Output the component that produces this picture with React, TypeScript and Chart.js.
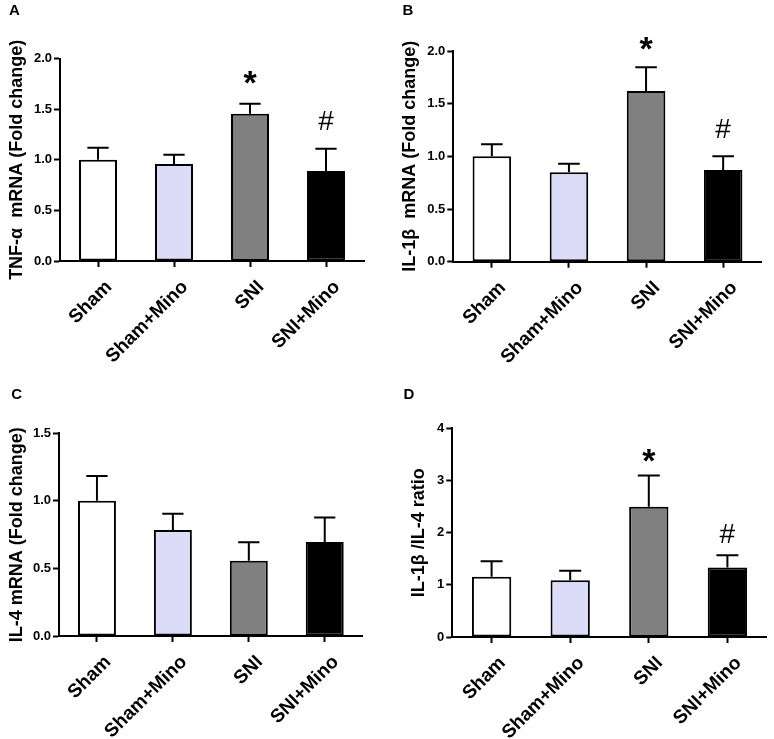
import React, { useEffect, useRef } from 'react';
import { Chart, registerables } from 'chart.js';

Chart.register(...registerables);

// ---------- data ----------
const categories = ['Sham', 'Sham+Mino', 'SNI', 'SNI+Mino'];

const tnfMean = [1.0, 0.96, 1.455, 0.89];
const tnfErr = [0.12, 0.09, 0.1, 0.22];
const tnfSig = ['', '', '*', '#'];

const il1bMean = [1.0, 0.85, 1.62, 0.87];
const il1bErr = [0.115, 0.08, 0.225, 0.13];
const il1bSig = ['', '', '*', '#'];

const il4Mean = [1.0, 0.785, 0.557, 0.696];
const il4Err = [0.184, 0.12, 0.136, 0.18];
const il4Sig = ['', '', '', ''];

const ratioMean = [1.155, 1.09, 2.496, 1.33];
const ratioErr = [0.295, 0.18, 0.6, 0.235];
const ratioSig = ['', '', '*', '#'];

const tnfTicks = { max: 2.0, step: 0.5, decimals: 1 };
const il1bTicks = { max: 2.0, step: 0.5, decimals: 1 };
const il4Ticks = { max: 1.5, step: 0.5, decimals: 1 };
const ratioTicks = { max: 4, step: 1, decimals: 0 };

// ---------- style ----------
const FONT = '"Liberation Sans", Arial, Helvetica, sans-serif';
const barColors = ['#ffffff', '#dcdcf8', '#808080', '#000000'];

type PanelCfg = {
  letter: string;
  title: string;
  mean: number[];
  err: number[];
  sig: string[];
  ticks: { max: number; step: number; decimals: number };
  left: number;
  top: number;
  w: number;
  h: number;
  padLeft: number;
  padRight: number;
  padTop: number;
  yWidth: number;
  xHeight: number;
  letterX: number;
  letterY: number;
  starGap: number;
  hashGap: number;
};

const panels: PanelCfg[] = [
  {
    letter: 'A', title: 'TNF-\u03b1  mRNA (Fold change)', mean: tnfMean, err: tnfErr, sig: tnfSig, ticks: tnfTicks,
    left: 0, top: 0, w: 387, h: 370, padLeft: 0, padRight: 23, padTop: 58.7, yWidth: 60, xHeight: 109,
    letterX: 14.5, letterY: 10.5, starGap: 26, hashGap: 28,
  },
  {
    letter: 'B', title: 'IL-1\u03b2  mRNA (Fold change)', mean: il1bMean, err: il1bErr, sig: il1bSig, ticks: il1bTicks,
    left: 387, top: 0, w: 387, h: 370, padLeft: 6, padRight: 12.3, padTop: 51, yWidth: 60.3, xHeight: 108.3,
    letterX: 21, letterY: 10.5, starGap: 24, hashGap: 28,
  },
  {
    letter: 'C', title: 'IL-4 mRNA (Fold change)', mean: il4Mean, err: il4Err, sig: il4Sig, ticks: il4Ticks,
    left: 0, top: 370, w: 387, h: 369, padLeft: 0, padRight: 24.3, padTop: 63.3, yWidth: 59, xHeight: 103,
    letterX: 16.7, letterY: 25, starGap: 24, hashGap: 28,
  },
  {
    letter: 'D', title: 'IL-1\u03b2 /IL-4 ratio', mean: ratioMean, err: ratioErr, sig: ratioSig, ticks: ratioTicks,
    left: 387, top: 370, w: 387, h: 369, padLeft: 15.4, padRight: 7.3, padTop: 58.3, yWidth: 49.9, xHeight: 102,
    letterX: 22, letterY: 25, starGap: 20, hashGap: 22,
  },
];

function makeOverlayPlugin(cfg: PanelCfg) {
  return {
    id: 'overlay' + cfg.letter,
    afterDatasetsDraw(chart: any) {
      const ctx = chart.ctx as CanvasRenderingContext2D;
      const meta = chart.getDatasetMeta(0);
      const yScale = chart.scales.y;
      ctx.save();
      ctx.strokeStyle = '#000';
      ctx.lineWidth = 2;
      meta.data.forEach((bar: any, i: number) => {
        const x = bar.x;
        const yBar = yScale.getPixelForValue(cfg.mean[i]);
        const yTop = yScale.getPixelForValue(cfg.mean[i] + cfg.err[i]);
        const cap = bar.width * 0.56;
        ctx.beginPath();
        ctx.moveTo(x, yBar);
        ctx.lineTo(x, yTop);
        ctx.moveTo(x - cap / 2, yTop);
        ctx.lineTo(x + cap / 2, yTop);
        ctx.stroke();
        const s = cfg.sig[i];
        if (s) {
          ctx.fillStyle = '#000';
          ctx.font = s === '*' ? `bold 34px ${FONT}` : `normal 28px ${FONT}`;
          ctx.textAlign = 'center';
          ctx.textBaseline = 'alphabetic';
          const m = ctx.measureText(s);
          const inkMid = (m.actualBoundingBoxDescent - m.actualBoundingBoxAscent) / 2;
          const cy = yTop - (s === '*' ? cfg.starGap : cfg.hashGap);
          ctx.fillText(s, x, cy - inkMid);
        }
      });
      ctx.restore();
    },
    afterDraw(chart: any) {
      const ctx = chart.ctx as CanvasRenderingContext2D;
      ctx.save();
      ctx.fillStyle = '#000';
      ctx.font = `bold 15px ${FONT}`;
      ctx.textAlign = 'center';
      ctx.textBaseline = 'middle';
      ctx.fillText(cfg.letter, cfg.letterX, cfg.letterY);
      ctx.restore();
    },
  };
}

function Panel({ cfg }: { cfg: PanelCfg }) {
  const ref = useRef<HTMLCanvasElement>(null);
  useEffect(() => {
    const chart = new Chart(ref.current as HTMLCanvasElement, {
      type: 'bar',
      data: {
        labels: categories,
        datasets: [
          {
            data: cfg.mean,
            backgroundColor: barColors,
            borderColor: '#000',
            borderWidth: 2,
            borderSkipped: false,
            barPercentage: 0.5,
            categoryPercentage: 1,
          } as any,
        ],
      },
      options: {
        responsive: false,
        animation: false,
        layout: { padding: { left: cfg.padLeft, right: cfg.padRight, top: cfg.padTop, bottom: 0 } },
        plugins: {
          legend: { display: false },
          tooltip: { enabled: false },
          title: { display: false },
        },
        scales: {
          x: {
            grid: {
              display: true,
              drawOnChartArea: false,
              drawTicks: true,
              tickLength: 6,
              tickWidth: 2,
              tickColor: '#000',
              offset: false,
            },
            border: { display: true, color: '#000', width: 2 },
            ticks: {
              autoSkip: false,
              minRotation: 45,
              maxRotation: 45,
              color: '#000',
              padding: 9,
              labelOffset: 11,
              font: { family: FONT, size: 19, weight: 'bold' },
            },
            afterFit: (s: any) => {
              s.height = cfg.xHeight;
            },
          } as any,
          y: {
            min: 0,
            max: cfg.ticks.max,
            grid: {
              display: true,
              drawOnChartArea: false,
              drawTicks: true,
              tickLength: 6,
              tickWidth: 2,
              tickColor: '#000',
            },
            border: { display: true, color: '#000', width: 2 },
            ticks: {
              stepSize: cfg.ticks.step,
              color: '#000',
              padding: 2,
              font: { family: FONT, size: 13, weight: 'bold' },
              callback: (v: any) => Number(v).toFixed(cfg.ticks.decimals),
            },
            title: {
              display: true,
              text: cfg.title,
              color: '#000',
              font: { family: FONT, size: 18, weight: 'bold' },
              padding: { top: 6, bottom: 0 },
            },
            afterFit: (s: any) => {
              s.width = cfg.yWidth;
            },
          } as any,
        },
      },
      plugins: [makeOverlayPlugin(cfg)],
    });
    return () => chart.destroy();
  }, [cfg]);
  return (
    <canvas
      ref={ref}
      width={cfg.w}
      height={cfg.h}
      style={{ position: 'absolute', left: cfg.left, top: cfg.top, width: cfg.w, height: cfg.h }}
    />
  );
}

export default function App() {
  return (
    <div style={{ position: 'absolute', left: 0, top: 0, width: 774, height: 739, background: '#fff' }}>
      {panels.map((p) => (
        <Panel key={p.letter} cfg={p} />
      ))}
    </div>
  );
}
